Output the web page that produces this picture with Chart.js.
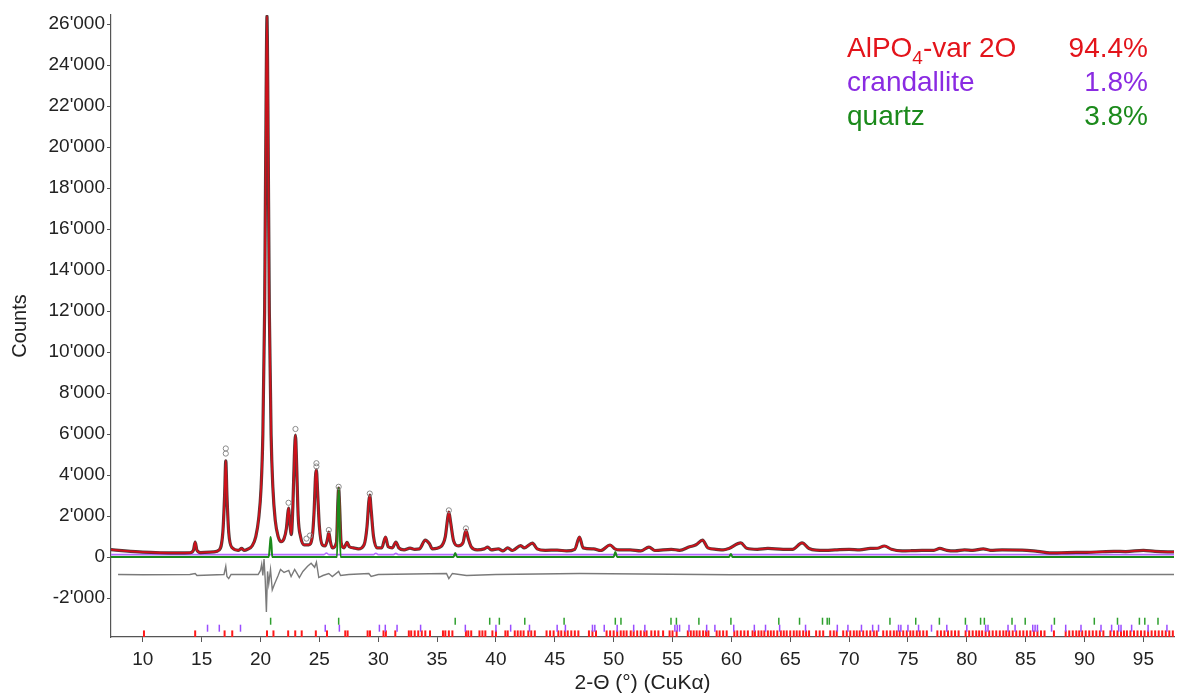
<!DOCTYPE html>
<html>
<head>
<meta charset="utf-8">
<script src="https://cdn.jsdelivr.net/npm/chart.js@4.4.1/dist/chart.umd.min.js"></script>
<style>
  html, body { margin: 0; padding: 0; background: #fff; }
  #wrap { width: 1180px; height: 700px; position: relative; }
</style>
</head>
<body>
<div id="wrap"><canvas id="chart1"></canvas></div>
<script>
// Rietveld plot data
// calculated profile [2theta, counts]
const calcProfile = [
  [7.3, 360], [8.5, 300], [10, 240], [11.5, 210], [13, 200], [14.0, 210], [14.3, 330], [14.45, 730],
  [14.6, 330], [14.9, 220], [16.0, 250], [16.5, 350], [16.8, 1200], [16.95, 3000], [17.05, 4700],
  [17.15, 3000], [17.3, 1200], [17.6, 450], [18.1, 330], [18.4, 420], [18.6, 330], [18.9, 380],
  [19.3, 550], [19.6, 1000], [19.85, 1900], [20.05, 3400], [20.2, 6000], [20.35, 12000],
  [20.47, 22000], [20.55, 26400], [20.63, 22000], [20.75, 12000], [20.9, 6000], [21.05, 3400],
  [21.25, 1800], [21.5, 1000], [21.75, 750], [22.0, 900], [22.2, 1400], [22.3, 2000], [22.38, 2390],
  [22.5, 1600], [22.62, 1100], [22.75, 2500], [22.88, 5000], [22.97, 5950], [23.07, 4500],
  [23.2, 2000], [23.4, 1000], [23.7, 600], [24.1, 600], [24.4, 1000], [24.55, 2200], [24.68, 4000],
  [24.75, 4250], [24.85, 3200], [25.0, 1500], [25.25, 600], [25.5, 550], [25.7, 900], [25.8, 1220],
  [25.92, 800], [26.1, 450], [26.45, 700], [26.58, 2800], [26.64, 3370], [26.72, 2500], [26.85, 700],
  [27.1, 450], [27.35, 720], [27.55, 500], [27.9, 450], [28.3, 400], [28.8, 600], [29.05, 1500],
  [29.2, 2700], [29.28, 3020], [29.4, 2300], [29.6, 1000], [29.9, 450], [30.3, 450], [30.62, 980],
  [30.85, 500], [31.2, 450], [31.5, 730], [31.75, 450], [32.2, 350], [32.7, 440], [33.1, 380],
  [33.5, 400], [34.0, 830], [34.35, 650], [34.6, 400], [35.3, 500], [35.7, 1000], [35.9, 1900],
  [36.0, 2200], [36.15, 1700], [36.4, 800], [36.8, 550], [37.2, 700], [37.45, 1320], [37.65, 900],
  [37.9, 500], [38.4, 350], [39.0, 400], [39.3, 490], [39.6, 350], [40.2, 400], [40.6, 300],
  [41.0, 450], [41.4, 320], [42.1, 560], [42.4, 450], [43.1, 680], [43.5, 400], [44.2, 330],
  [45.2, 340], [46.0, 300], [46.7, 380], [47.1, 980], [47.4, 450], [48.3, 400], [48.9, 320],
  [49.7, 590], [50.1, 400], [50.5, 350], [51.4, 350], [52.3, 300], [53.0, 490], [53.5, 320],
  [54.9, 380], [55.6, 330], [56.45, 500], [57.0, 600], [57.55, 830], [58.0, 450], [58.7, 380],
  [59.3, 350], [59.8, 420], [60.8, 690], [61.3, 430], [62.2, 380], [63.1, 420], [64.4, 380],
  [65.2, 380], [66.0, 690], [66.6, 420], [67.2, 340], [68.0, 330], [68.8, 350], [70.0, 380],
  [70.9, 350], [71.8, 420], [72.4, 430], [73.0, 540], [73.6, 380], [74.5, 300], [75.3, 310],
  [76.2, 330], [77.2, 330], [77.7, 420], [78.3, 330], [79.0, 300], [79.8, 350], [80.5, 330],
  [81.4, 400], [82.0, 330], [83.0, 350], [84.7, 340], [86.0, 280], [87.4, 200], [88.5, 220],
  [90.2, 230], [91.5, 260], [92.5, 280], [93.5, 270], [95.0, 330], [96.0, 280], [97.6, 250]
];

// observed points sitting above the fit
const obsMarks = [
  [17.05, 5050], [17.05, 5300], [22.38, 2650], [22.97, 6250], [24.75, 4420], [24.75, 4580],
  [26.64, 3430], [29.28, 3100], [23.9, 900], [24.2, 1050], [25.8, 1320], [36.0, 2280], [37.45, 1400]
];

// difference curve (obs - calc, shifted)
const diffProfile = [
  [7.9, -850], [10, -860], [14.0, -850], [14.45, -800], [14.6, -900], [16.9, -850], [17.05, -450],
  [17.15, -950], [17.3, -1050], [17.5, -850], [19.8, -850], [20.0, -650], [20.1, -350], [20.2, -900],
  [20.3, -100], [20.4, -1100], [20.5, -2680], [20.6, -700], [20.7, -1300], [20.85, -600],
  [21.0, -1600], [21.2, -1300], [21.5, -900], [21.7, -600], [22.0, -750], [22.4, -650],
  [22.6, -950], [22.9, -600], [23.1, -800], [23.3, -1000], [23.6, -700], [24.0, -450], [24.3, -300],
  [24.6, -500], [24.75, -250], [24.95, -1000], [25.3, -900], [25.8, -800], [26.1, -950],
  [26.64, -700], [26.8, -900], [27.5, -850], [29.2, -800], [29.4, -950], [30.0, -850], [35.8, -800],
  [36.0, -1050], [36.3, -800], [37.5, -900], [40, -850], [47.1, -800], [60, -860], [97.6, -850]
];

// phase contributions
const quartzProfile = [
  [7.3, 0], [20.7, 0], [20.8, 600], [20.86, 980], [20.93, 600], [21.0, 0], [26.5, 0], [26.58, 2500],
  [26.64, 3370], [26.7, 2500], [26.8, 0], [36.4, 0], [36.54, 200], [36.7, 0], [50.0, 0], [50.14, 250],
  [50.3, 0], [59.8, 0], [59.96, 150], [60.1, 0], [97.6, 0]
];
const crandalliteProfile = [
  [7.3, 120], [25.4, 120], [25.6, 200], [25.8, 120], [29.6, 120], [29.8, 190], [30.0, 120],
  [31.3, 120], [31.5, 180], [31.7, 120], [97.6, 120]
];

// reflection positions
const alpo4Refl = [
  10.1, 14.45, 16.95, 17.6, 20.55, 21.1, 22.35, 22.95, 23.5, 24.7, 25.65, 27.2, 27.4, 29.1, 29.3,
  30.45, 30.65, 31.45, 32.6, 32.8, 33.1, 33.4, 33.7, 34.0, 34.4, 35.5, 35.7, 36.0, 36.3, 37.45,
  37.65, 37.9, 38.6, 38.85, 39.1, 39.7, 40.0, 40.8, 41.0, 41.6, 41.85, 42.1, 42.35, 42.75, 43.0,
  43.3, 44.3, 44.6, 44.9, 45.3, 45.55, 45.85, 46.1, 46.4, 46.7, 47.0, 47.9, 48.2, 48.5, 49.4, 49.7,
  50.0, 50.3, 50.6, 50.85, 51.1, 51.45, 51.7, 52.0, 52.3, 52.6, 52.8, 53.2, 53.5, 53.8, 54.2, 54.75,
  55.0, 55.35, 56.3, 56.55, 56.8, 57.05, 57.3, 57.6, 57.85, 58.05, 58.75, 59.0, 59.3, 59.6, 60.25,
  60.5, 60.8, 61.1, 61.4, 61.8, 62.0, 62.3, 62.55, 62.8, 63.1, 63.35, 63.6, 63.9, 64.2, 64.45,
  64.7, 65.0, 65.3, 65.55, 65.8, 66.1, 66.35, 66.6, 67.2, 67.5, 67.8, 68.4, 68.7, 68.95, 69.5,
  69.8, 70.1, 70.4, 70.65, 70.9, 71.2, 71.5, 71.8, 72.1, 72.35, 72.9, 73.2, 73.5, 73.8, 74.05,
  74.3, 74.6, 74.9, 75.2, 75.45, 75.75, 76.0, 76.3, 76.6, 77.5, 77.8, 78.1, 78.4, 78.7, 79.0,
  79.3, 79.9, 80.2, 80.5, 80.8, 81.05, 81.3, 81.6, 81.9, 82.2, 82.5, 82.8, 83.1, 83.35, 83.6, 83.9,
  84.2, 84.5, 84.8, 85.1, 85.4, 85.7, 86.0, 86.3, 86.6, 87.4, 88.4, 88.7, 89.0, 89.3, 89.55, 89.8,
  90.1, 90.4, 90.7, 91.0, 91.3, 91.6, 92.2, 92.5, 92.8, 93.1, 93.35, 93.6, 93.9, 94.2, 94.5, 94.8,
  95.1, 95.4, 95.7, 96.0, 96.3, 96.6, 96.9, 97.2, 97.5
];
const crandalliteRefl = [
  15.5, 16.5, 18.3, 25.5, 26.7, 30.1, 30.6, 31.6, 33.6, 37.4, 40.0, 41.25, 42.85, 45.2, 45.9,
  48.2, 48.4, 49.2, 50.3, 51.7, 52.65, 55.2, 55.4, 55.6, 56.4, 57.9, 58.6, 60.2, 61.95, 62.9,
  64.1, 66.3, 69.0, 69.9, 71.05, 72.0, 72.5, 74.2, 74.4, 75.0, 75.9, 77.0, 78.3, 80.0, 81.6,
  81.8, 83.5, 84.1, 85.6, 85.8, 86.0, 87.2, 88.4, 89.7, 91.4, 92.3, 92.9, 93.1, 94.0, 95.4, 97.0
];
const quartzRefl = [
  20.86, 26.64, 36.54, 39.47, 40.29, 42.45, 45.79, 50.14, 50.62, 54.87, 55.33, 57.24, 59.96,
  64.03, 65.79, 67.74, 68.14, 68.32, 73.47, 75.66, 77.67, 79.88, 81.17, 81.49, 83.84, 84.96,
  87.44, 90.83, 92.80, 94.66, 95.12, 96.24
];

// axis tick values
const xTickValues = [10, 15, 20, 25, 30, 35, 40, 45, 50, 55, 60, 65, 70, 75, 80, 85, 90, 95];
const yTickValues = [-2000, 0, 2000, 4000, 6000, 8000, 10000, 12000, 14000, 16000, 18000,
  20000, 22000, 24000, 26000];

const phaseNames = ['AlPO4-var 2O', 'crandallite', 'quartz'];
const phasePct = ['94.4%', '1.8%', '3.8%'];

const FONT = '"Liberation Sans", Arial, sans-serif';
const RED = '#e3141b', PURPLE = '#8a2be2', GREEN = '#1b8a1b';

const pts = arr => arr.map(p => ({ x: p[0], y: p[1] }));
const refl = (arr, level) => arr.map(v => ({ x: v, y: level }));

const fmtCounts = v => {
    const s = Math.abs(v).toString().replace(/\B(?=(\d{3})+(?!\d))/g, "'");
    return (v < 0 ? '-' : '') + s;
};

// phase legend with weight fractions
const phaseLegend = {
    id: 'phaseLegend',
    afterDraw(chart) {
        const ctx = chart.ctx;
        const colors = [RED, PURPLE, GREEN];
        ctx.save();
        ctx.textBaseline = 'alphabetic';
        phaseNames.forEach((name, i) => {
            const y = 57 + i * 34;
            ctx.fillStyle = colors[i];
            ctx.font = '28px ' + FONT;
            ctx.textAlign = 'left';
            const m = name.match(/^(.*?)(\d)(-.*)$/);
            if (m && i === 0) {
                let x = 847;
                ctx.fillText(m[1], x, y);
                x += ctx.measureText(m[1]).width;
                ctx.font = '19px ' + FONT;
                ctx.fillText(m[2], x, y + 7);
                x += ctx.measureText(m[2]).width;
                ctx.font = '28px ' + FONT;
                ctx.fillText(m[3], x, y);
            } else {
                ctx.fillText(name, 847, y);
            }
            ctx.textAlign = 'right';
            ctx.fillText(phasePct[i], 1148, y);
        });
        ctx.restore();
    }
};

const createChart = (ctx) => {
    new Chart(ctx, {
        type: 'scatter',
        data: {
            datasets: [
                {
                    label: 'obs',
                    data: pts(obsMarks),
                    showLine: false,
                    pointStyle: 'circle',
                    pointRadius: 2.6,
                    pointBorderWidth: 1,
                    pointBorderColor: '#8a8a8a',
                    pointBackgroundColor: 'rgba(255,255,255,0)',
                    order: 1
                },
                {
                    label: 'quartz',
                    data: pts(quartzProfile),
                    showLine: true,
                    borderColor: GREEN,
                    borderWidth: 2,
                    pointRadius: 0,
                    cubicInterpolationMode: 'monotone',
                    order: 2
                },
                {
                    label: 'calc',
                    data: pts(calcProfile),
                    showLine: true,
                    borderColor: '#d0101a',
                    borderWidth: 1.8,
                    pointRadius: 0,
                    cubicInterpolationMode: 'monotone',
                    order: 3
                },
                {
                    label: 'obs line',
                    data: pts(calcProfile),
                    showLine: true,
                    borderColor: 'rgba(40,10,10,0.8)',
                    borderWidth: 3.2,
                    pointRadius: 0,
                    cubicInterpolationMode: 'monotone',
                    order: 4
                },
                {
                    label: 'crandallite',
                    data: pts(crandalliteProfile),
                    showLine: true,
                    borderColor: '#b36bff',
                    borderWidth: 1.6,
                    pointRadius: 0,
                    cubicInterpolationMode: 'monotone',
                    order: 5
                },
                {
                    label: 'diff',
                    data: pts(diffProfile),
                    showLine: true,
                    borderColor: '#7a7a7a',
                    borderWidth: 1.4,
                    pointRadius: 0,
                    order: 6
                },
                {
                    label: 'quartz hkl',
                    data: refl(quartzRefl, -3130),
                    showLine: false,
                    pointStyle: 'line',
                    pointRotation: 90,
                    pointRadius: 3.5,
                    pointBorderWidth: 1.5,
                    pointBorderColor: '#2ea02e',
                    order: 7
                },
                {
                    label: 'crandallite hkl',
                    data: refl(crandalliteRefl, -3470),
                    showLine: false,
                    pointStyle: 'line',
                    pointRotation: 90,
                    pointRadius: 3.5,
                    pointBorderWidth: 1.5,
                    pointBorderColor: '#9a4dff',
                    order: 8
                },
                {
                    label: 'AlPO4 hkl',
                    data: refl(alpo4Refl, -3740),
                    showLine: false,
                    pointStyle: 'line',
                    pointRotation: 90,
                    pointRadius: 3.3,
                    pointBorderWidth: 2,
                    pointBorderColor: '#ff1a1a',
                    order: 9
                }
            ]
        },
        options: {
            responsive: true,
            maintainAspectRatio: false,
            animation: false,
            layout: { padding: { top: 15, right: 0, left: 0, bottom: 0 } },
            plugins: {
                legend: { display: false },
                tooltip: { enabled: false }
            },
            scales: {
                x: {
                    type: 'linear',
                    min: 7.3,
                    max: 97.6,
                    afterFit: s => { s.height = 63; },
                    afterBuildTicks: s => { s.ticks = xTickValues.map(v => ({ value: v })); },
                    ticks: {
                        font: { family: FONT, size: 19 },
                        color: '#222',
                        padding: 6,
                        maxRotation: 0,
                        autoSkip: false
                    },
                    grid: { drawOnChartArea: false, tickLength: 5, color: '#555' },
                    border: { color: '#555', width: 1.2 },
                    title: {
                        display: true,
                        text: '2-\u0398 (\u00b0) (CuK\u03b1)',
                        font: { family: FONT, size: 21 },
                        color: '#222',
                        padding: { top: 0, bottom: 4 }
                    }
                },
                y: {
                    type: 'linear',
                    min: -3900,
                    max: 26450,
                    afterFit: s => { s.width = 111; },
                    afterBuildTicks: s => { s.ticks = yTickValues.map(v => ({ value: v })); },
                    ticks: {
                        callback: v => fmtCounts(v),
                        font: { family: FONT, size: 19 },
                        color: '#222',
                        padding: 2,
                        autoSkip: false
                    },
                    grid: { drawOnChartArea: false, tickLength: 4, color: '#555' },
                    border: { color: '#555', width: 1.2 },
                    title: {
                        display: true,
                        text: 'Counts',
                        font: { family: FONT, size: 20 },
                        color: '#222',
                        padding: { top: 8, bottom: 0 }
                    }
                }
            }
        },
        plugins: [phaseLegend]
    });
};

window.onload = () => {
    const ctx1 = document.getElementById('chart1').getContext('2d');
    createChart(ctx1);
};
</script>
</body>
</html>
